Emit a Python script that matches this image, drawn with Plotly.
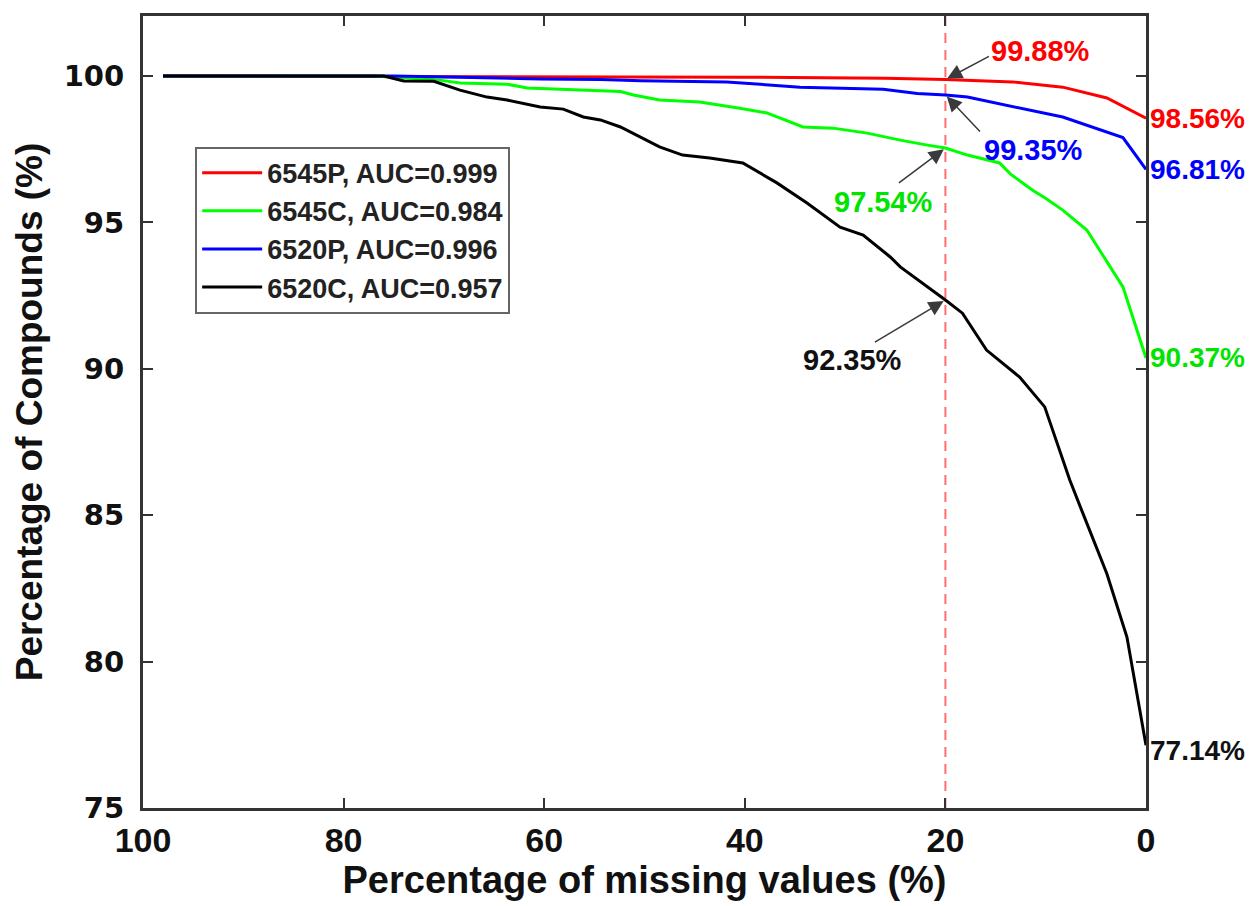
import plotly.graph_objects as go

# ---- data ----
names = ["6545P, AUC=0.999", "6545C, AUC=0.984", "6520P, AUC=0.996", "6520C, AUC=0.957"]
colors = ["#FF0000", "#00FF00", "#0000FF", "#000000"]

x_6545P = [98, 60, 40, 26, 20, 13.3, 8.3, 3.9, 0]
y_6545P = [100, 99.98, 99.96, 99.92, 99.88, 99.8, 99.62, 99.25, 98.56]

x_6545C = [98, 77, 70.4, 68.4, 63.7, 61.7, 52.4, 51.1, 48.5, 44.5, 40.5, 37.8, 34.2, 31.2,
           27.8, 24.5, 21.8, 20, 17.8, 14.6, 13.5, 11.3, 9.9, 8.3, 5.9, 2.3, 0]
y_6545C = [100, 100, 99.86, 99.76, 99.72, 99.59, 99.47, 99.35, 99.18, 99.11, 98.9, 98.74, 98.26, 98.22,
           98.05, 97.81, 97.64, 97.54, 97.3, 97.03, 96.65, 96.1, 95.8, 95.42, 94.74, 92.8, 90.37]

x_6520P = [98, 75, 60.4, 54.4, 50.4, 41.8, 34.5, 26.2, 22.8, 20, 17.8, 14.6, 8.3, 2.3, 0]
y_6520P = [100, 100, 99.9, 99.88, 99.84, 99.8, 99.62, 99.55, 99.4, 99.35, 99.28, 99.05, 98.6, 97.9, 96.81]

x_6520C = [98, 76, 74, 71, 68.4, 65.7, 63.7, 60.4, 58.1, 56.1, 54.4, 52.4, 48.5, 46.2, 43.5, 40.2,
           36.8, 33.8, 30.5, 28.2, 25.5, 24.5, 20, 18.3, 15.9, 12.6, 10.1, 7.6, 6.3, 3.9, 1.9, 0]
y_6520C = [100, 100, 99.83, 99.82, 99.52, 99.28, 99.18, 98.94, 98.87, 98.6, 98.5, 98.26, 97.58, 97.3, 97.2, 97.03,
           96.35, 95.66, 94.84, 94.57, 93.82, 93.48, 92.35, 91.9, 90.64, 89.72, 88.7, 86.2, 85.07, 83.0, 80.84, 77.14]

threshold = 20
threshold_vals = [99.88, 97.54, 99.35, 92.35]   # per series, same order as names
end_vals = [98.56, 90.37, 96.81, 77.14]

x_ticks = [100, 80, 60, 40, 20, 0]
y_ticks = [75, 80, 85, 90, 95, 100]

xs = [x_6545P, x_6545C, x_6520P, x_6520C]
ys = [y_6545P, y_6545C, y_6520P, y_6520C]

fig = go.Figure()
for n, c, xx, yy in zip(names, colors, xs, ys):
    fig.add_trace(go.Scatter(x=xx, y=yy, mode="lines", name=n,
                             line=dict(color=c, width=3)))

# dashed threshold line
fig.add_shape(type="line", xref="x", yref="paper", x0=threshold, x1=threshold, y0=0, y1=1,
              line=dict(color="#FF6F6F", width=2, dash="10px,7px"), layer="below")

ann_font = "Liberation Sans, Arial, sans-serif"
text_colors = ["#FF0000", "#00E400", "#0000FF", "#111111"]
# arrow tail offsets (px) and label shifts (px)
arrow_off = [(45, -24), (-48, 36), (36, 38), (-72, 43)]
label_shift = [(95, 29), (-62, -54), (88, -55), (-93, -60)]
for v, tc, (ax, ay), (dx, dy) in zip(threshold_vals, text_colors, arrow_off, label_shift):
    fig.add_annotation(x=threshold, y=v, xref="x", yref="y", text="", showarrow=True,
                       ax=ax, ay=ay, arrowhead=2, arrowsize=2, arrowwidth=1.5,
                       arrowcolor="#3a3a3a", standoff=2)
    fig.add_annotation(x=threshold, y=v, xref="x", yref="y", text=f"{v:.2f}%", showarrow=False,
                       xshift=dx, yshift=dy,
                       font=dict(family=ann_font, size=29, color=tc, weight="bold"))

end_shift = [0, 0, 0, -5]
for v, tc, s in zip(end_vals, text_colors, end_shift):
    fig.add_annotation(x=0, y=v, xref="x", yref="y", text=f"{v:.2f}%", showarrow=False,
                       xanchor="left", xshift=2, yshift=s,
                       font=dict(family=ann_font, size=28, color=tc, weight="bold"))

axis_common = dict(showline=True, linewidth=3, linecolor="#333333", mirror="ticks",
                   ticks="inside", ticklen=10, tickwidth=2, tickcolor="#333333",
                   showgrid=False, zeroline=False)

fig.update_layout(
    width=1257, height=906,
    paper_bgcolor="white", plot_bgcolor="white",
    margin=dict(l=143, r=111, t=16, b=98, autoexpand=False),
    showlegend=True,
    legend=dict(x=0.052, y=0.835, xanchor="left", yanchor="top",
                bgcolor="white", bordercolor="#666666", borderwidth=2,
                itemwidth=60,
                font=dict(family=ann_font, size=27, color="#222222", weight="bold"),
                tracegroupgap=0),
    xaxis=dict(range=[100, 0], tickvals=x_ticks, ticktext=[str(t) for t in x_ticks],
               tickfont=dict(family=ann_font, size=34, color="#111111", weight="bold"),
               title=dict(text="Percentage of missing values (%)", standoff=6,
                          font=dict(family=ann_font, size=38, color="#111111", weight="bold")),
               **axis_common),
    yaxis=dict(range=[75, 102.05], tickvals=y_ticks, ticktext=[str(t) for t in y_ticks],
               ticklabelstandoff=10,
               tickfont=dict(family="DejaVu Sans", size=29, color="#111111", weight="bold"),
               title=dict(text="Percentage of Compounds (%)", standoff=10,
                          font=dict(family=ann_font, size=37, color="#111111", weight="bold")),
               **axis_common),
)

fig.write_html("out.html", config={"displayModeBar": False},
               post_script="document.body.style.margin='0px';")
